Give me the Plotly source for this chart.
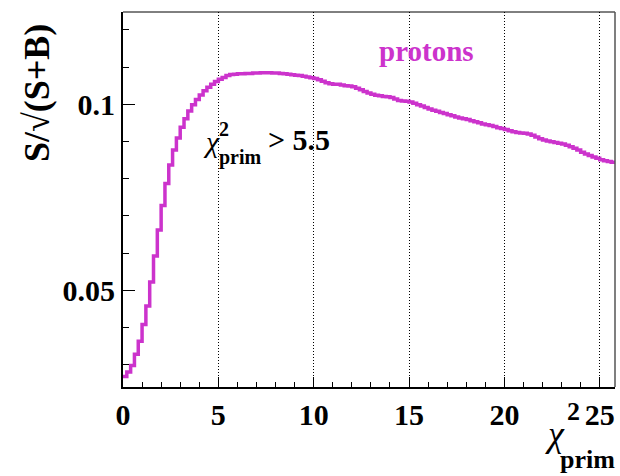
import plotly.graph_objects as go

# ---- data ----
BIN_WIDTH = 0.2
X_MIN = 0.0
X_MAX = 25.8
Y_MIN = 0.024
Y_MAX = 0.1248

ratio = [
    0.0268, 0.0280, 0.0298, 0.0328, 0.0363, 0.0408, 0.0458, 0.0522, 0.0592, 0.0662,
    0.0728, 0.0787, 0.0837, 0.0877, 0.0909, 0.0938, 0.0961, 0.0982, 0.0999, 0.1013,
    0.1025, 0.1036, 0.1046, 0.1054, 0.1061, 0.1067, 0.1072, 0.1077, 0.1080, 0.1081,
    0.1082, 0.1082, 0.1083, 0.1083, 0.1084, 0.1084, 0.1085, 0.1085, 0.1085, 0.1084,
    0.1084, 0.1083, 0.1082, 0.1081, 0.1079, 0.1078, 0.1077, 0.1075, 0.1073, 0.1071,
    0.1069, 0.1066, 0.1062, 0.1058, 0.1055, 0.1054, 0.1054, 0.1052, 0.1050, 0.1049,
    0.1047, 0.1043, 0.1039, 0.1034, 0.1030, 0.1027, 0.1024, 0.1023, 0.1021, 0.1020,
    0.1018, 0.1014, 0.1010, 0.1009, 0.1008, 0.1006, 0.1003, 0.0999, 0.0995, 0.0991,
    0.0987, 0.0984, 0.0981, 0.0978, 0.0975, 0.0972, 0.0969, 0.0966, 0.0963, 0.0961,
    0.0959, 0.0956, 0.0953, 0.0950, 0.0947, 0.0945, 0.0943, 0.0940, 0.0937, 0.0935,
    0.0932, 0.0929, 0.0926, 0.0924, 0.0923, 0.0922, 0.0920, 0.0917, 0.0912, 0.0907,
    0.0904, 0.0901, 0.0899, 0.0897, 0.0895, 0.0893, 0.0890, 0.0886, 0.0882, 0.0877,
    0.0871, 0.0866, 0.0862, 0.0858, 0.0855, 0.0851, 0.0848, 0.0846, 0.0844,
]

x_ticks = [0, 5, 10, 15, 20, 25]
x_tick_labels = ["0", "5", "10", "15", "20", "25"]
y_ticks = [0.05, 0.1]
y_tick_labels = ["0.05", "0.1"]

legend_text = "protons"
cut_text = "> 5.5"
y_title = "S/√(S+B)"

# ---- figure ----
W, H = 620, 476
L, R, T, B = 123, 615, 12, 387
COLOR = "#CC33CC"
FONT = "Liberation Serif"

edges = [X_MIN + i * BIN_WIDTH for i in range(len(ratio) + 1)]
yvals = ratio + [ratio[-1]]

fig = go.Figure()
fig.add_trace(go.Scatter(
    x=edges, y=yvals, mode="lines",
    line=dict(color=COLOR, width=3.5, shape="hv"),
    showlegend=False, hoverinfo="skip",
))

fig.update_layout(
    width=W, height=H,
    margin=dict(l=L, r=W - R, t=T, b=H - B, pad=0),
    paper_bgcolor="white", plot_bgcolor="white",
    font=dict(family=FONT, color="black"),
)

fig.update_xaxes(
    range=[X_MIN, X_MAX],
    tickvals=x_ticks, ticktext=x_tick_labels,
    ticks="inside", ticklen=10, tickwidth=1, tickcolor="black",
    tickfont=dict(family=FONT, size=30, color="black", weight="bold"),
    showline=True, linecolor="black", linewidth=2,
    showgrid=True, gridcolor="black", griddash="1px,2px", gridwidth=1,
    minor=dict(dtick=1, ticks="inside", ticklen=5, tickcolor="black", showgrid=False),
    zeroline=False,
)
fig.update_yaxes(
    range=[Y_MIN, Y_MAX],
    tickvals=y_ticks, ticktext=y_tick_labels,
    ticks="inside", ticklen=12, tickwidth=1, tickcolor="black",
    tickfont=dict(family=FONT, size=30, color="black", weight="bold"),
    showline=True, linecolor="black", linewidth=2,
    showgrid=False,
    minor=dict(dtick=0.01, tick0=0, ticks="inside", ticklen=6, tickcolor="black", showgrid=False),
    zeroline=False,
)

# thin top / right frame
fig.add_shape(type="line", xref="paper", yref="paper", x0=0, x1=1, y0=1, y1=1,
              line=dict(color="black", width=1))
fig.add_shape(type="line", xref="paper", yref="paper", x0=1, x1=1, y0=0, y1=1,
              line=dict(color="#555555", width=1.5))


def P(px, py):
    return (px - L) / (R - L), (B - py) / (B - T)


def ann(text, px, py, size, xanchor="center", yanchor="middle", color="black", angle=0):
    x, y = P(px, py)
    fig.add_annotation(text=text, x=x, y=y, xref="paper", yref="paper",
                       xanchor=xanchor, yanchor=yanchor, showarrow=False,
                       textangle=angle, borderpad=0,
                       font=dict(family=FONT, size=size, color=color))


# legend-like label
ann("<b>" + legend_text + "</b>", 426, 51, 29, color=COLOR)

# in-plot cut label: chi^2_prim > 5.5
ann("<i>χ</i>", 211, 141, 30)
ann("<b>2</b>", 224, 129, 20)
ann("<b>prim</b>", 240, 157, 20)
ann("<b>" + cut_text + "</b>", 267, 139, 30, xanchor="left")

# x-axis title: chi^2_prim
ann("<i>χ</i>", 555, 434, 36)
ann("<b>2</b>", 573, 411, 26)
ann("<b>prim</b>", 616, 459, 26, xanchor="right")

# y-axis title
ann("<b>" + y_title + "</b>", 37, 93, 36, angle=-90)

fig.write_html("out.html")
